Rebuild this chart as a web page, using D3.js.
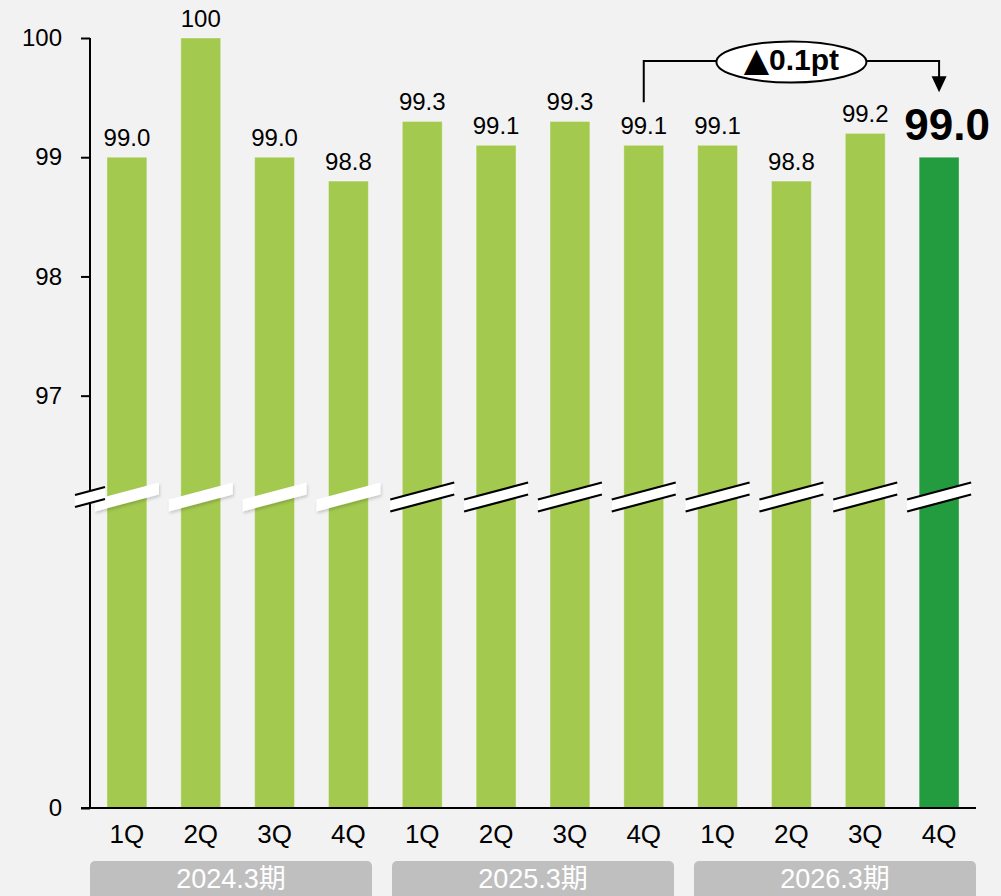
<!DOCTYPE html>
<html>
<head>
<meta charset="utf-8">
<script src="https://cdn.jsdelivr.net/npm/d3@7"></script>
<style>
  html, body { margin: 0; padding: 0; background: #f2f2f2; }
  svg { display: block; font-family: "Liberation Sans", Arial, "Noto Sans CJK JP", sans-serif; }
</style>
</head>
<body>
<svg id="chart" width="1001" height="896"></svg>
<script>
// Quarterly values, fiscal periods and axis ticks
const quarters = ["1Q", "2Q", "3Q", "4Q", "1Q", "2Q", "3Q", "4Q", "1Q", "2Q", "3Q", "4Q"];
const periods = ["2024.3期", "2025.3期", "2026.3期"];
const values = [99.0, 100, 99.0, 98.8, 99.3, 99.1, 99.3, 99.1, 99.1, 98.8, 99.2, 99.0];
const yTicks = [0, 97, 98, 99, 100];
const changeMark = "▲";
const changeText = "0.1pt";
const changeFrom = 7;   // index of the comparison bar
const changeTo = 11;    // index of the latest bar
const breakValue = 96.15;

const W = 1001, H = 896;
const LIGHT = "#a3c94f", DARK = "#239c3f", PERIOD_BG = "#bfbfbf";

const svg = d3.select("#chart");
svg.append("rect").attr("width", W).attr("height", H).attr("fill", "#f2f2f2");

const defs = svg.append("defs");
const sh = defs.append("filter").attr("id", "soft").attr("x", "-20%").attr("y", "-50%").attr("width", "140%").attr("height", "200%");
sh.append("feDropShadow").attr("dx", 1).attr("dy", 2).attr("stdDeviation", 1.4)
  .attr("flood-color", "#000").attr("flood-opacity", 0.18);

const x = d3.scaleBand()
  .domain(d3.range(values.length))
  .range([90, 976])
  .paddingInner(0.46)
  .paddingOuter(0.23);

// Broken value axis: 0 at the base, a compressed stretch up to the break, then 97-100 expanded
const y = d3.scaleLinear()
  .domain([0, breakValue, 100])
  .range([808, 497, 38]);

const fmt = v => v === 100 ? "100" : v.toFixed(1);
const cx = i => x(i) + x.bandwidth() / 2;

// Bars
svg.append("g").selectAll("rect").data(values).join("rect")
  .attr("x", (d, i) => x(i))
  .attr("y", d => y(d))
  .attr("width", x.bandwidth())
  .attr("height", d => y(0) - y(d))
  .attr("fill", (d, i) => i === values.length - 1 ? DARK : LIGHT)
  .attr("stroke", "rgba(255,255,255,0.35)")
  .attr("stroke-width", 1);

// Value axis
const yAxis = d3.axisLeft(y)
  .tickValues(yTicks)
  .tickFormat(d3.format("d"))
  .tickSize(9)
  .tickSizeOuter(0)
  .tickPadding(19);
const ya = svg.append("g").attr("transform", `translate(${x.range()[0]},0)`).call(yAxis);
ya.select(".domain").attr("stroke", "#000").attr("stroke-width", 2)
  .attr("d", `M0,${y(100)}V${y(0)}`);
ya.selectAll(".tick line").attr("stroke", "#000").attr("stroke-width", 2);
ya.selectAll(".tick text").attr("font-size", 24).attr("fill", "#000")
  .attr("font-family", "Liberation Sans, Arial, sans-serif");

// Category axis
const xAxis = d3.axisBottom(x).tickFormat(i => quarters[i]).tickSize(0).tickPadding(17);
const xa = svg.append("g").attr("transform", `translate(0,${y(0)})`).call(xAxis);
xa.select(".domain").remove();
xa.selectAll(".tick text").attr("font-size", 26).attr("fill", "#000")
  .attr("font-family", "Liberation Sans, Arial, sans-serif");
svg.append("line")
  .attr("x1", x.range()[0] - 9).attr("x2", x.range()[1])
  .attr("y1", y(0)).attr("y2", y(0))
  .attr("stroke", "#000").attr("stroke-width", 2);

// Break marks across the bars and the axis
const yb = y(breakValue);
const half = 32, rise = 8.5, gap = 6;
const breakG = svg.append("g");
values.forEach((d, i) => {
  const c = cx(i);
  const poly = [[c - half, yb - gap + rise], [c + half, yb - gap - rise], [c + half, yb + gap - rise], [c - half, yb + gap + rise]];
  const outlined = i >= 4;
  breakG.append("polygon")
    .attr("points", poly.map(p => p.join(",")).join(" "))
    .attr("fill", "#fff")
    .attr("filter", outlined ? null : "url(#soft)");
  if (outlined) {
    breakG.append("line").attr("x1", poly[0][0]).attr("y1", poly[0][1]).attr("x2", poly[1][0]).attr("y2", poly[1][1])
      .attr("stroke", "#000").attr("stroke-width", 2.2);
    breakG.append("line").attr("x1", poly[3][0]).attr("y1", poly[3][1]).attr("x2", poly[2][0]).attr("y2", poly[2][1])
      .attr("stroke", "#000").attr("stroke-width", 2.2);
  }
});
{
  const ax = x.range()[0], hw = 15, r = 4;
  const poly = [[ax - hw, yb - gap + r], [ax + hw, yb - gap - r], [ax + hw, yb + gap - r], [ax - hw, yb + gap + r]];
  breakG.append("polygon").attr("points", poly.map(p => p.join(",")).join(" ")).attr("fill", "#fff");
  breakG.append("line").attr("x1", poly[0][0]).attr("y1", poly[0][1]).attr("x2", poly[1][0]).attr("y2", poly[1][1])
    .attr("stroke", "#000").attr("stroke-width", 2.2);
  breakG.append("line").attr("x1", poly[3][0]).attr("y1", poly[3][1]).attr("x2", poly[2][0]).attr("y2", poly[2][1])
    .attr("stroke", "#000").attr("stroke-width", 2.2);
}

// Value labels
const last = values.length - 1;
svg.append("g").selectAll("text").data(values).join("text")
  .attr("x", (d, i) => cx(i) + (i === last ? 8 : 0))
  .attr("y", (d, i) => y(d) - (i === last ? 17 : 11))
  .attr("text-anchor", "middle")
  .attr("font-size", (d, i) => i === last ? 44 : 24)
  .attr("font-weight", (d, i) => i === last ? "bold" : "normal")
  .attr("fill", "#000")
  .text(d => fmt(d));

// Change callout between the comparison bar and the latest bar
const x0 = cx(changeFrom), x1 = cx(changeTo);
const topY = y(100) + 23;
const startY = y(values[changeFrom]) - 43;
const tipY = y(values[changeTo]) - 65;
const ann = svg.append("g");
ann.append("path")
  .attr("d", `M${x0},${startY}V${topY}H${x1}V${tipY - 14}`)
  .attr("fill", "none").attr("stroke", "#000").attr("stroke-width", 2);
ann.append("path")
  .attr("d", `M${x1 - 7.5},${tipY - 16}L${x1 + 7.5},${tipY - 16}L${x1},${tipY}Z`)
  .attr("fill", "#000");
const mx = (x0 + x1) / 2;
ann.append("ellipse")
  .attr("cx", mx).attr("cy", topY + 1).attr("rx", 75).attr("ry", 20.5)
  .attr("fill", "#fff").attr("stroke", "#000").attr("stroke-width", 2);
const at = ann.append("text")
  .attr("x", mx).attr("y", topY + 9)
  .attr("text-anchor", "middle")
  .attr("font-weight", "bold").attr("fill", "#000");
at.append("tspan").attr("font-family", "DejaVu Sans").attr("font-size", 33).attr("dy", 1).text(changeMark);
at.append("tspan").attr("font-size", 30).attr("dy", -1).text(changeText);

// Fiscal period boxes
const pGap = 20;
const span = x.range()[1] - x.range()[0];
const pw = (span - pGap * (periods.length - 1)) / periods.length;
const pg = svg.append("g").selectAll("g").data(periods).join("g")
  .attr("transform", (d, i) => `translate(${x.range()[0] + i * (pw + pGap)},861)`);
pg.append("rect").attr("width", pw).attr("height", 45).attr("rx", 5).attr("fill", PERIOD_BG);
pg.append("text")
  .attr("x", pw / 2).attr("y", 27)
  .attr("text-anchor", "middle")
  .attr("font-size", 27).attr("fill", "#fff")
  .text(d => d);
</script>
</body>
</html>
